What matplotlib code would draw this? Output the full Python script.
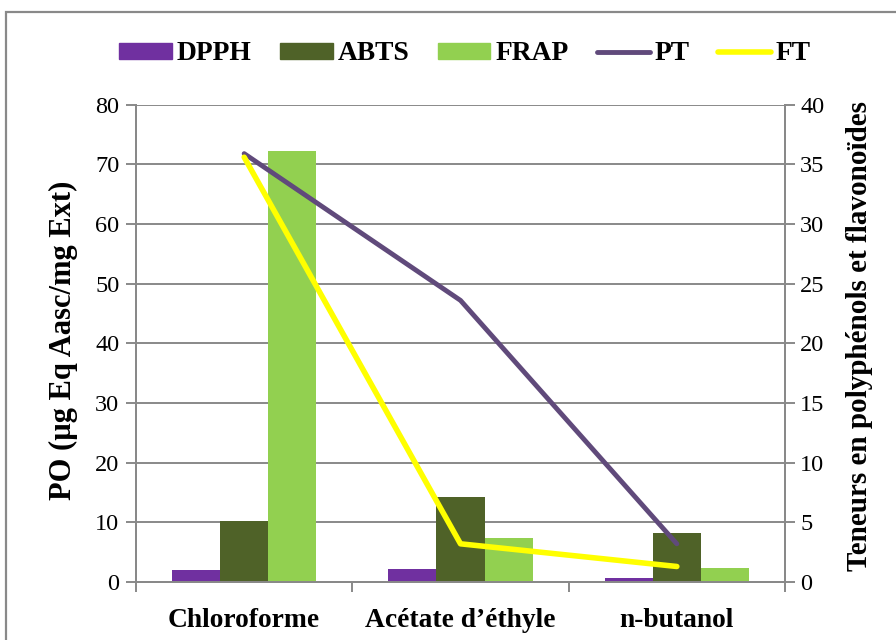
import matplotlib
matplotlib.use("Agg")
import matplotlib.pyplot as plt
from matplotlib.patches import Rectangle
from matplotlib.lines import Line2D
import numpy as np

# Extracts and measured values
categories = ["Chloroforme", "Acétate d’éthyle", "n-butanol"]
dpph = [2.0, 2.1, 0.7]
abts = [10.2, 14.2, 8.2]
frap = [72.2, 7.3, 2.4]
pt = [35.9, 23.6, 3.2]
ft = [35.6, 3.2, 1.3]

left_ticks = list(range(0, 81, 10))
right_ticks = list(range(0, 41, 5))

c_dpph = "#7030A0"
c_abts = "#4F6228"
c_frap = "#92D050"
c_pt = "#604A7B"
c_ft = "#FFFF00"
grey = "#898989"

plt.rcParams["font.family"] = ["Liberation Serif", "DejaVu Serif"]

fig = plt.figure(figsize=(8.96, 6.4), dpi=100)
W, H = 896, 640

# outer chart-area frame (runs off the right and bottom edges)
fig.patches.append(Rectangle((6 / W, -0.2), 2.0, 1 - 12 / H + 0.2,
                             transform=fig.transFigure, fill=False,
                             edgecolor=grey, linewidth=1.6, clip_on=False))

ax = fig.add_axes([136 / W, 1 - 582 / H, (785 - 136) / W, (582 - 104.7) / H])
ax2 = ax.twinx()

x = np.arange(len(categories))
bw = 1 / 4.5
ax.bar(x - bw, dpph, bw, color=c_dpph, zorder=3)
ax.bar(x, abts, bw, color=c_abts, zorder=3)
ax.bar(x + bw, frap, bw, color=c_frap, zorder=3)

ax2.plot(x, pt, color=c_pt, lw=3.5, solid_capstyle="round",
         solid_joinstyle="round", zorder=4)
ax2.plot(x, ft, color=c_ft, lw=4.0, solid_capstyle="round",
         solid_joinstyle="round", zorder=5)

ax.set_xlim(-0.5, 2.5)
ax.set_ylim(0, 80)
ax2.set_ylim(0, 40)
ax.set_yticks(left_ticks)
ax2.set_yticks(right_ticks)

ax.yaxis.grid(True, color=grey, lw=1.4, zorder=0)
ax.set_axisbelow(True)

# category labels at centres, tick marks between categories
ax.set_xticks(x)
ax.set_xticklabels(categories, fontsize=19.8, fontweight="bold")
ax.tick_params(axis="x", which="major", length=0, pad=19)
ax.set_xticks([-0.5, 0.5, 1.5, 2.5], minor=True)
ax.tick_params(axis="x", which="minor", length=7, width=1.4, color=grey)

ax.tick_params(axis="y", length=7, width=1.4, color=grey, labelsize=17.5, pad=5)
ax2.tick_params(axis="y", length=7, width=1.4, color=grey, labelsize=17.5, pad=4)

for a in (ax, ax2):
    a.spines["top"].set_visible(False)
    for s in ("left", "right", "bottom"):
        a.spines[s].set_color(grey)
        a.spines[s].set_linewidth(1.4)

# axis titles
fig.text(63 / W, 1 - 340 / H, "PO (µg Eq Aasc/mg Ext)", rotation=90,
         ha="center", va="center", fontsize=22, fontweight="bold")
fig.text(859 / W, 1 - 336 / H, "Teneurs en polyphénols et flavonoïdes",
         rotation=90, ha="center", va="center", fontsize=21,
         fontweight="bold")

handles = [
    Rectangle((0, 0), 1, 1, color=c_dpph),
    Rectangle((0, 0), 1, 1, color=c_abts),
    Rectangle((0, 0), 1, 1, color=c_frap),
    Line2D([0], [0], color=c_pt, lw=3.5, solid_capstyle="round"),
    Line2D([0], [0], color=c_ft, lw=4.0, solid_capstyle="round"),
]
labels = ["DPPH", "ABTS", "FRAP", "PT", "FT"]
fig.legend(handles, labels, loc="center", bbox_to_anchor=(465 / W, 1 - 54 / H),
           ncol=5, frameon=False, prop={"weight": "bold", "size": 19.8},
           handlelength=1.9, handleheight=0.5, handletextpad=0.18,
           columnspacing=1.05, borderpad=0, borderaxespad=0)

fig.savefig("out.png", dpi=100)
